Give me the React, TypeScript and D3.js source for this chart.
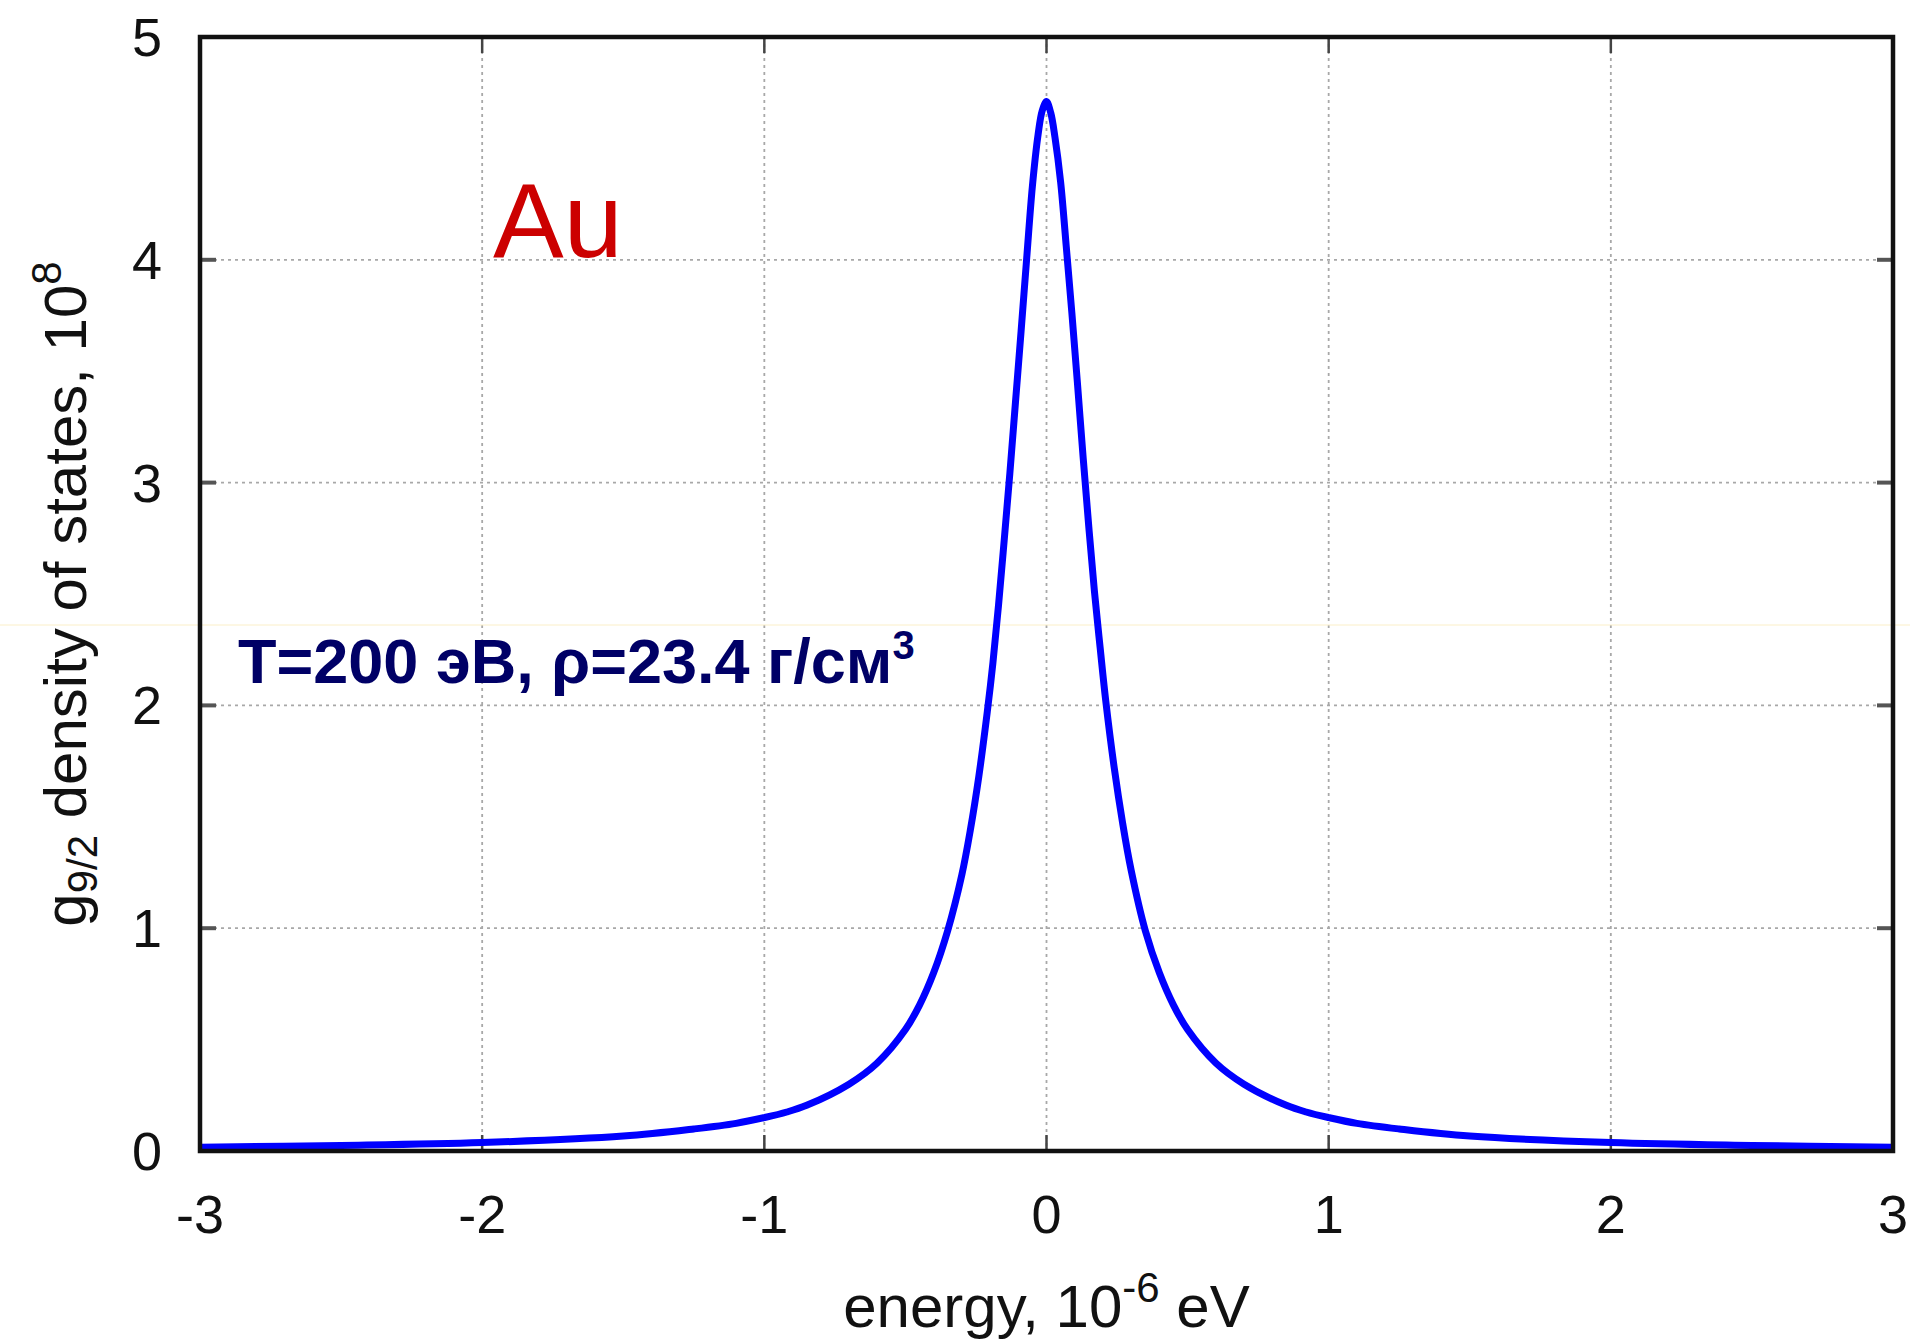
import React from "react";
import * as d3 from "d3";

const energy = [
  -3, -2.5, -2, -1.5, -1.25, -1.1, -1, -0.92, -0.85, -0.7, -0.6, -0.5, -0.45, -0.4, -0.35, -0.3, -0.27, -0.24, -0.21, -0.19,
  -0.17, -0.15, -0.13, -0.11, -0.09, -0.07, -0.05, -0.03, -0.015, 0,
  0.015, 0.03, 0.05, 0.07, 0.09, 0.11, 0.13, 0.15, 0.17, 0.19, 0.21, 0.24, 0.27, 0.3, 0.35, 0.4, 0.45, 0.5,
  0.6, 0.7, 0.85, 0.92, 1, 1.1, 1.25, 1.5, 2, 2.5, 3,
];
const density = [
  0.017, 0.025, 0.038, 0.067, 0.099, 0.124, 0.15, 0.175, 0.205, 0.3, 0.395, 0.545, 0.655, 0.8, 0.99, 1.24, 1.44, 1.68, 1.97, 2.19,
  2.45, 2.74, 3.04, 3.36, 3.68, 4.01, 4.33, 4.56, 4.67, 4.71,
  4.66, 4.55, 4.35, 4.06, 3.76, 3.44, 3.11, 2.8, 2.51, 2.26, 2.02, 1.72, 1.47, 1.26, 0.99, 0.8, 0.655, 0.545,
  0.395, 0.3, 0.205, 0.175, 0.15, 0.124, 0.099, 0.067, 0.038, 0.025, 0.017,
];
const xTicks = [-3, -2, -1, 0, 1, 2, 3];
const yTicks = [0, 1, 2, 3, 4, 5];

const W = 1910;
const H = 1340;
const M = { left: 200, right: 1893, top: 37, bottom: 1151 };
const FONT = "'Liberation Sans', Arial, Helvetica, sans-serif";

export default function App() {
  const x = d3.scaleLinear().domain([-3, 3]).range([M.left, M.right]);
  const y = d3.scaleLinear().domain([0, 5]).range([M.bottom, M.top]);
  const pts: [number, number][] = energy.map((e, i) => [e, density[i]]);
  const line = d3
    .line<[number, number]>()
    .x((d) => x(d[0]))
    .y((d) => y(d[1]))
    .curve(d3.curveCatmullRom.alpha(0.5));
  const tickLen = 16;

  return (
    <div style={{ position: "absolute", left: 0, top: 0 }}>
      <svg width={W} height={H} style={{ display: "block", background: "#fff" }}>
        <rect x={0} y={0} width={W} height={H} fill="#fff" />
        {/* grid */}
        {xTicks.slice(1, -1).map((t) => (
          <line key={"gx" + t} x1={x(t)} x2={x(t)} y1={M.top} y2={M.bottom} stroke="#a8a8a8" strokeWidth={1.8} strokeDasharray="3,4" />
        ))}
        {yTicks.slice(1, -1).map((t) => (
          <line key={"gy" + t} x1={M.left} x2={M.right} y1={y(t)} y2={y(t)} stroke="#a8a8a8" strokeWidth={1.8} strokeDasharray="3,4" />
        ))}
        {/* faint artifact line */}
        <line x1={0} x2={W} y1={625} y2={625} stroke="#fbefc8" strokeWidth={1} />
        {/* ticks */}
        {yTicks.slice(1, -1).map((t) => (
          <g key={"ty" + t}>
            <line x1={M.left} x2={M.left + tickLen} y1={y(t)} y2={y(t)} stroke="#555" strokeWidth={4} />
            <line x1={M.right} x2={M.right - tickLen} y1={y(t)} y2={y(t)} stroke="#555" strokeWidth={4} />
          </g>
        ))}
        {xTicks.slice(1, -1).map((t) => (
          <g key={"tx" + t}>
            <line x1={x(t)} x2={x(t)} y1={M.bottom} y2={M.bottom - tickLen} stroke="#444" strokeWidth={2.5} />
            <line x1={x(t)} x2={x(t)} y1={M.top} y2={M.top + tickLen} stroke="#444" strokeWidth={2.5} />
          </g>
        ))}
        {/* curve */}
        <path d={line(pts) || ""} fill="none" stroke="#0000ff" strokeWidth={7} strokeLinejoin="round" />
        {/* frame */}
        <rect x={M.left} y={M.top} width={M.right - M.left} height={M.bottom - M.top} fill="none" stroke="#111" strokeWidth={4.5} />
        {/* y tick labels */}
        {yTicks.map((t) => (
          <text key={"ly" + t} x={162} y={y(t) + 19} textAnchor="end" fontFamily={FONT} fontSize={54} fill="#111">
            {t}
          </text>
        ))}
        {/* x tick labels */}
        {xTicks.map((t) => (
          <text key={"lx" + t} x={x(t)} y={1233} textAnchor="middle" fontFamily={FONT} fontSize={54} fill="#111">
            {t < 0 ? "-" + Math.abs(t) : String(t)}
          </text>
        ))}
        {/* x axis label */}
        <text x={(M.left + M.right) / 2} y={1327} textAnchor="middle" fontFamily={FONT} fontSize={60} fill="#111">
          energy, 10
          <tspan dy={-25} fontSize={42}>-6</tspan>
          <tspan dy={25}> eV</tspan>
        </text>
        {/* y axis label */}
        <text
          transform={`translate(86, ${(M.top + M.bottom) / 2}) rotate(-90)`}
          textAnchor="middle"
          fontFamily={FONT}
          fontSize={60}
          fill="#111"
        >
          g<tspan dy={11} fontSize={42}>9/2</tspan>
          <tspan dy={-11}> density of states, 10</tspan>
          <tspan dy={-25} fontSize={42}>8</tspan>
        </text>
        {/* annotations */}
        <text x={493} y={257} fontFamily={FONT} fontSize={106} fill="#cc0000">
          Au
        </text>
        <text x={238} y={683} fontFamily={FONT} fontSize={63} fontWeight="bold" fill="#000066">
          T=200 эВ, ρ=23.4 г/см<tspan dy={-24} fontSize={40}>3</tspan>
        </text>
      </svg>
    </div>
  );
}
